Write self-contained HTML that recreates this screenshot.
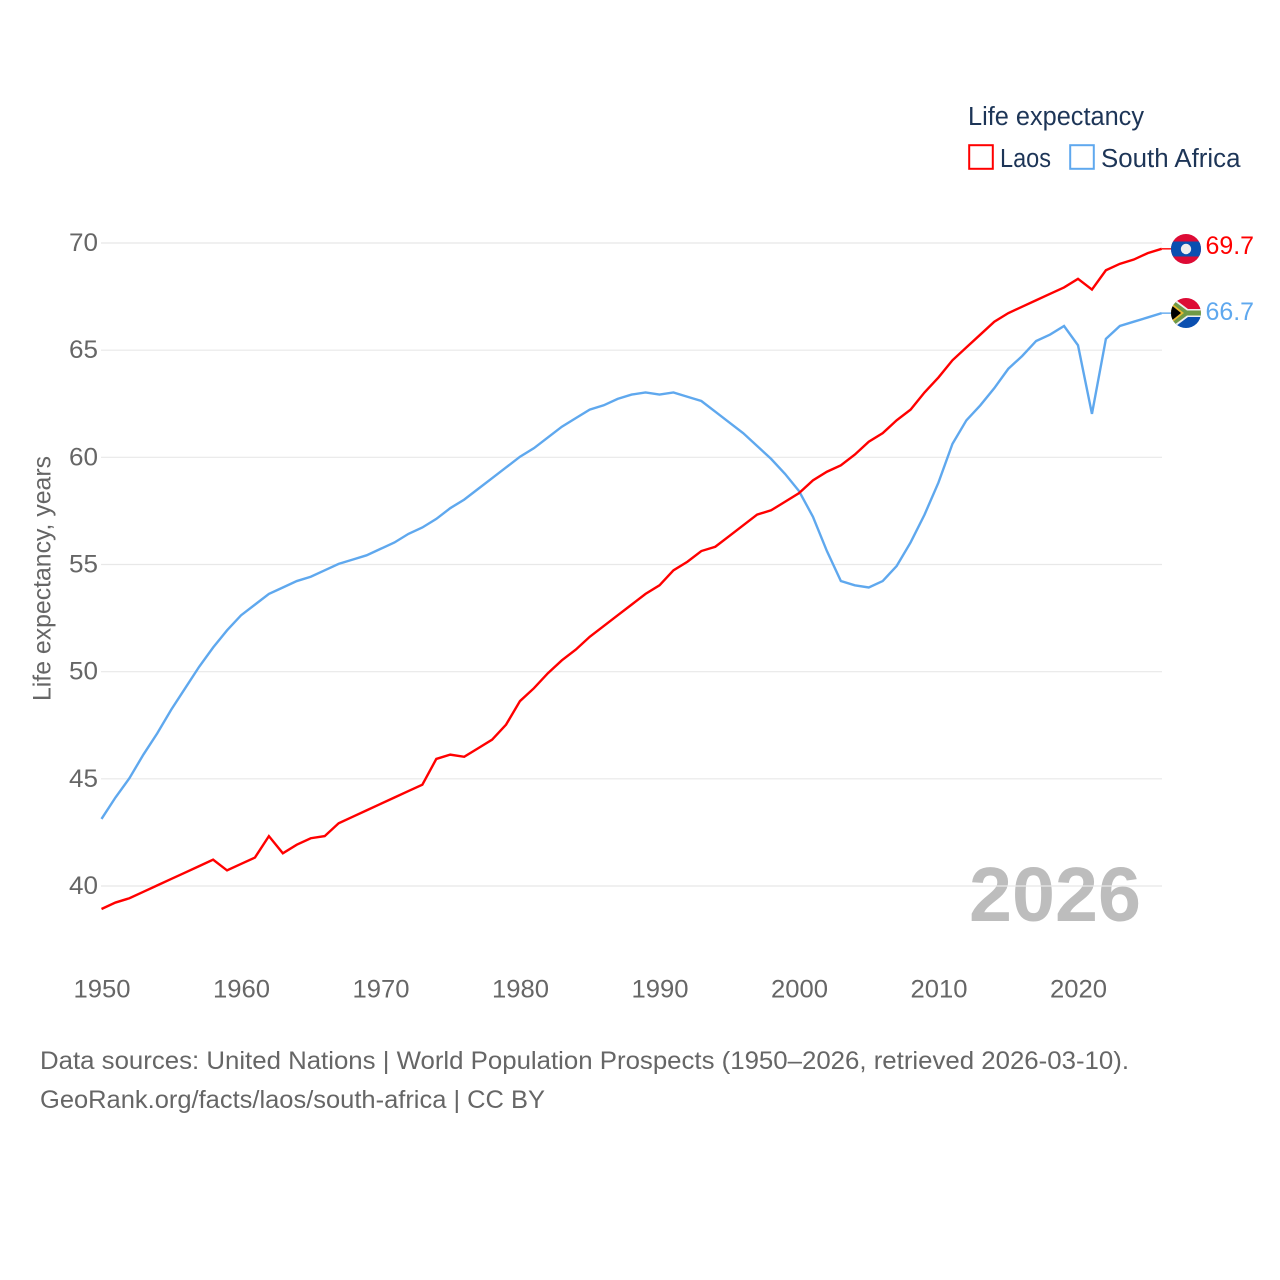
<!DOCTYPE html>
<html lang="en">
<head>
<meta charset="utf-8">
<title>Life expectancy: Laos and South Africa</title>
<style>
html,body{margin:0;padding:0;background:#fff;width:1280px;height:1280px;overflow:hidden}
svg{display:block}
text{font-family:"Liberation Sans",sans-serif}
</style>
</head>
<body>
<svg id="chart" width="1280" height="1280" viewBox="0 0 1280 1280" xmlns="http://www.w3.org/2000/svg">
  <defs>
    <clipPath id="clip-laos"><circle cx="1186" cy="249" r="15"/></clipPath>
    <clipPath id="clip-za"><circle cx="1186" cy="313" r="15"/></clipPath>
  </defs>
  <rect x="0" y="0" width="1280" height="1280" fill="#ffffff"/>

  <text x="969" y="921" font-size="77" font-weight="700" fill="#bdbdbd" textLength="172" lengthAdjust="spacingAndGlyphs">2026</text>

  <g id="grid"></g>
  <g id="yticks"></g>
  <g id="xticks"></g>

  <text transform="translate(50.5,701) rotate(-90)" x="0" y="0" font-size="25" fill="#666666" textLength="245" lengthAdjust="spacingAndGlyphs">Life expectancy, years</text>

  <g id="series" transform="translate(0,-0.6)"></g>

  <g>
    <text x="968" y="125" font-size="25.5" fill="#1d3557" textLength="176" lengthAdjust="spacingAndGlyphs">Life expectancy</text>
    <g>
      <rect x="969.2" y="145.2" width="23.6" height="23.6" fill="none" stroke="#ff0000" stroke-width="2"/>
      <text x="1000" y="167" font-size="25.5" fill="#1d3557" textLength="51" lengthAdjust="spacingAndGlyphs">Laos</text>
    </g>
    <g>
      <rect x="1070.2" y="145.2" width="23.6" height="23.6" fill="none" stroke="#5fa8ee" stroke-width="2"/>
      <text x="1101" y="167" font-size="25.5" fill="#1d3557" textLength="139.500" lengthAdjust="spacingAndGlyphs">South Africa</text>
    </g>
  </g>

  <g clip-path="url(#clip-laos)">
    <rect x="1170" y="233" width="32" height="32" fill="#dd0b35"/>
    <rect x="1170" y="241.500" width="32" height="15" fill="#0a4fb0"/>
    <circle cx="1186" cy="249" r="5.200" fill="#eeeeee"/>
  </g>

  <g clip-path="url(#clip-za)">
    <rect x="1170" y="297" width="32" height="16" fill="#dd0b35"/>
    <rect x="1170" y="313" width="32" height="16" fill="#0a4fb0"/>
    <path d="M1172 297 L1188 309 H1202 V317 H1188 L1172 329 H1170 V297 Z" fill="#eeeeee"/>
    <path d="M1170 298 L1187 310.500 H1202 V315.500 H1187 L1170 328 Z" fill="#6f9a45"/>
    <path d="M1170 302 L1184 313 L1170 324 Z" fill="#e8b931"/>
    <path d="M1170 304 L1181 313 L1170 322 Z" fill="#000000"/>
  </g>

  <text x="1205.500" y="254" font-size="25" fill="#ff0000" textLength="48.500" lengthAdjust="spacingAndGlyphs">69.7</text>
  <text x="1205.500" y="320" font-size="25" fill="#5fa8ee" textLength="48.500" lengthAdjust="spacingAndGlyphs">66.7</text>

  <g>
    <text x="40" y="1069" font-size="25" fill="#666666" textLength="1089" lengthAdjust="spacingAndGlyphs">Data sources: United Nations | World Population Prospects (1950–2026, retrieved 2026-03-10).</text>
    <text x="40" y="1108" font-size="25" fill="#666666" textLength="505" lengthAdjust="spacingAndGlyphs">GeoRank.org/facts/laos/south-africa | CC BY</text>
  </g>
</svg>
<script>
const startYear = 1950;
const yTickLabels = [40, 45, 50, 55, 60, 65, 70];
const xTickLabels = [1950, 1960, 1970, 1980, 1990, 2000, 2010, 2020];
const laosValues = [38.9,39.2,39.4,39.7,40.0,40.3,40.6,40.9,41.2,40.7,41.0,41.3,42.3,41.5,41.9,42.2,42.3,42.9,43.2,43.5,43.8,44.1,44.4,44.7,45.9,46.1,46.0,46.4,46.8,47.5,48.6,49.2,49.9,50.5,51.0,51.6,52.1,52.6,53.1,53.6,54.0,54.7,55.1,55.6,55.8,56.3,56.8,57.3,57.5,57.9,58.3,58.9,59.3,59.6,60.1,60.7,61.1,61.7,62.2,63.0,63.7,64.5,65.1,65.7,66.3,66.7,67.0,67.3,67.6,67.9,68.3,67.8,68.7,69.0,69.2,69.5,69.7];
const southAfricaValues = [43.1,44.1,45.0,46.1,47.1,48.2,49.2,50.2,51.1,51.9,52.6,53.1,53.6,53.9,54.2,54.4,54.7,55.0,55.2,55.4,55.7,56.0,56.4,56.7,57.1,57.6,58.0,58.5,59.0,59.5,60.0,60.4,60.9,61.4,61.8,62.2,62.4,62.7,62.9,63.0,62.9,63.0,62.8,62.6,62.1,61.6,61.1,60.5,59.9,59.2,58.4,57.2,55.6,54.2,54.0,53.9,54.2,54.9,56.0,57.3,58.8,60.6,61.7,62.4,63.2,64.1,64.7,65.4,65.7,66.1,65.2,62.0,65.5,66.1,66.3,66.5,66.7];

const NS = 'http://www.w3.org/2000/svg';
function xScale(year) { return 101.5 + (year - 1950) * (1078 - 101.5) / 70; }
function yScale(v) { return 886 - (v - 40) * (886 - 243) / 30; }
function linePoints(values) {
  return values.map(function (v, i) {
    return xScale(startYear + i).toFixed(2) + ',' + yScale(v).toFixed(2);
  }).join(' ');
}

const gridGroup = document.getElementById('grid');
const yGroup = document.getElementById('yticks');
const xGroup = document.getElementById('xticks');
const seriesGroup = document.getElementById('series');

yTickLabels.forEach(function (v) {
  const gl = document.createElementNS(NS, 'line');
  
  
  gl.setAttribute('x1', 101);
  gl.setAttribute('x2', 1162);
  gl.setAttribute('y1', yScale(v));
  gl.setAttribute('y2', yScale(v));
  gl.setAttribute('stroke', '#e8e8e8');
  gl.setAttribute('stroke-width', 1.2);
  gridGroup.appendChild(gl);

  const t = document.createElementNS(NS, 'text');
  
  
  t.setAttribute('x', 69);
  t.setAttribute('y', yScale(v) + 8);
  t.setAttribute('font-size', 25);
  t.setAttribute('fill', '#666666');
  t.setAttribute('textLength', 29);
  t.setAttribute('lengthAdjust', 'spacingAndGlyphs');
  t.textContent = v;
  yGroup.appendChild(t);
});

xTickLabels.forEach(function (yr) {
  const t = document.createElementNS(NS, 'text');
  
  
  t.setAttribute('x', xScale(yr) - 28);
  t.setAttribute('y', 997.5);
  t.setAttribute('font-size', 25);
  t.setAttribute('fill', '#666666');
  t.setAttribute('textLength', 57);
  t.setAttribute('lengthAdjust', 'spacingAndGlyphs');
  t.textContent = yr;
  xGroup.appendChild(t);
});

const saLine = document.createElementNS(NS, 'polyline');


saLine.setAttribute('points', linePoints(southAfricaValues));
saLine.setAttribute('fill', 'none');
saLine.setAttribute('stroke', '#5fa8ee');
saLine.setAttribute('stroke-width', 2.4);
seriesGroup.appendChild(saLine);

const laosLine = document.createElementNS(NS, 'polyline');


laosLine.setAttribute('points', linePoints(laosValues));
laosLine.setAttribute('fill', 'none');
laosLine.setAttribute('stroke', '#ff0000');
laosLine.setAttribute('stroke-width', 2.4);
seriesGroup.appendChild(laosLine);

const lastYear = startYear + laosValues.length - 1;

const laosStub = document.createElementNS(NS, 'line');


laosStub.setAttribute('x1', xScale(lastYear));
laosStub.setAttribute('x2', 1174);
laosStub.setAttribute('y1', yScale(laosValues[laosValues.length - 1]));
laosStub.setAttribute('y2', yScale(laosValues[laosValues.length - 1]));
laosStub.setAttribute('stroke', '#ff0000');
laosStub.setAttribute('stroke-width', 1.4);
seriesGroup.appendChild(laosStub);

const saStub = document.createElementNS(NS, 'line');


saStub.setAttribute('x1', xScale(lastYear));
saStub.setAttribute('x2', 1174);
saStub.setAttribute('y1', yScale(southAfricaValues[southAfricaValues.length - 1]));
saStub.setAttribute('y2', yScale(southAfricaValues[southAfricaValues.length - 1]));
saStub.setAttribute('stroke', '#5fa8ee');
saStub.setAttribute('stroke-width', 1.4);
seriesGroup.appendChild(saStub);
</script>
</body>
</html>
